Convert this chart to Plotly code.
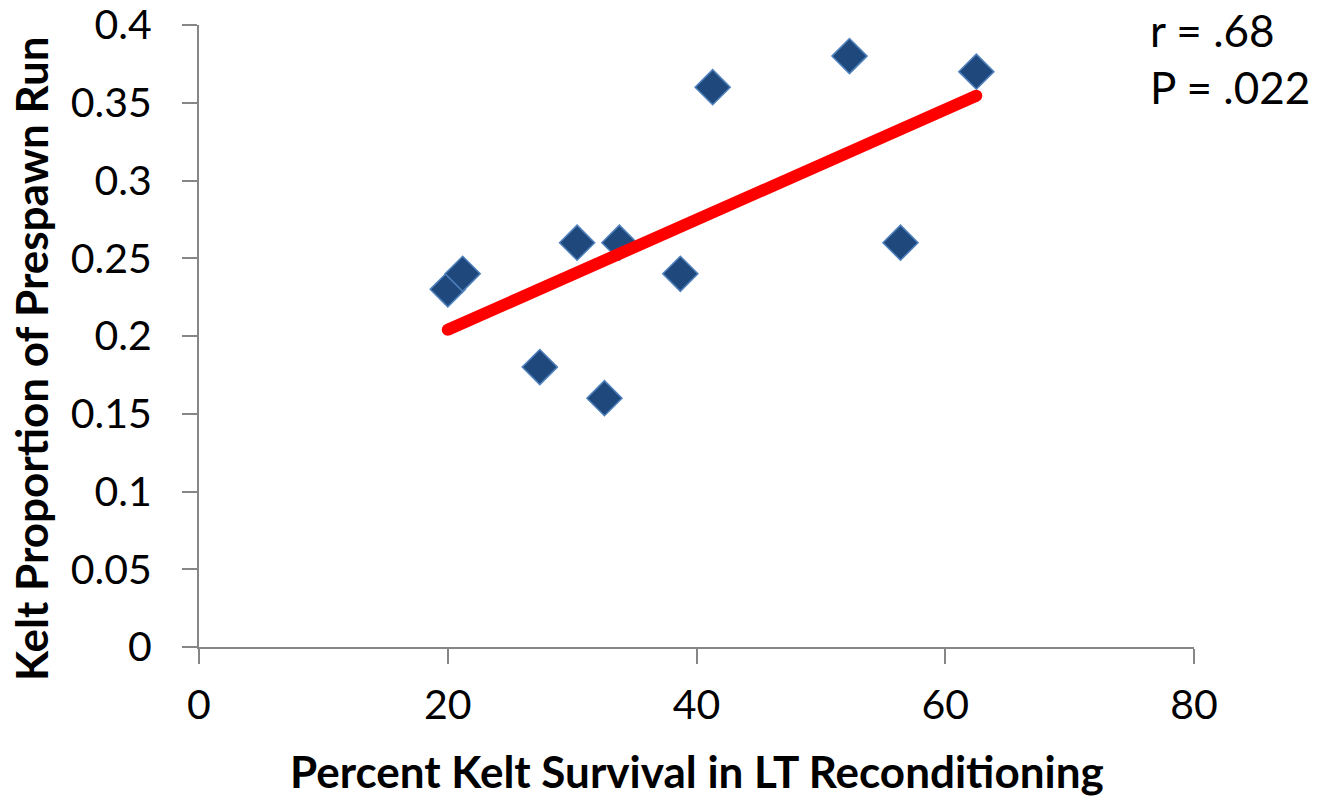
import numpy as np
import plotly.graph_objects as go

# Percent kelt survival in long-term reconditioning vs kelt proportion of prespawn run
survival_pct = [20.0, 21.2, 27.4, 30.4, 32.6, 33.8, 38.7, 41.3, 52.3, 56.4, 62.5]
prespawn_prop = [0.23, 0.24, 0.18, 0.26, 0.16, 0.26, 0.24, 0.36, 0.38, 0.26, 0.37]

x_ticks = [0, 20, 40, 60, 80]
y_ticks = [0, 0.05, 0.1, 0.15, 0.2, 0.25, 0.3, 0.35, 0.4]
y_tick_text = ["0", "0.05", "0.1", "0.15", "0.2", "0.25", "0.3", "0.35", "0.4"]

r_text = "r = .68"
p_text = "P = .022"

# least-squares trend line across the observed range
slope, intercept = np.polyfit(survival_pct, prespawn_prop, 1)
fit_x = [min(survival_pct), max(survival_pct)]
fit_y = [slope * v + intercept for v in fit_x]

FONT = "Lato, 'Open Sans', sans-serif"
AXIS_GREY = "#868686"
TICK_SIZE = 41
TITLE_SIZE = 44
STAT_SIZE = 44

fig = go.Figure()

fig.add_trace(go.Scatter(
    x=survival_pct, y=prespawn_prop, mode="markers",
    marker=dict(symbol="diamond", size=27, color="#1F497D",
                line=dict(color="#4F81BD", width=1.5)),
    showlegend=False, hoverinfo="x+y",
))

fig.add_trace(go.Scatter(
    x=fit_x, y=fit_y, mode="lines+markers",
    line=dict(color="#FF0000", width=12),
    marker=dict(symbol="circle", size=12, color="#FF0000", line=dict(width=0)),
    showlegend=False, hoverinfo="skip",
))

axis_common = dict(
    showgrid=False, zeroline=False, automargin=False,
    showline=True, linecolor=AXIS_GREY, linewidth=2,
    ticks="outside", ticklen=15, tickwidth=2, tickcolor=AXIS_GREY,
    ticklabeloverflow="allow",
    tickfont=dict(family=FONT, size=TICK_SIZE, color="black"),
)

fig.update_layout(
    width=1320, height=799,
    margin=dict(l=199, r=126, t=25, b=152),
    paper_bgcolor="white", plot_bgcolor="white",
    font=dict(family=FONT, color="black", size=TICK_SIZE),
    xaxis=dict(range=[0, 80], tickvals=x_ticks,
               ticktext=[str(v) for v in x_ticks],
               ticklabelstandoff=6, **axis_common),
    yaxis=dict(range=[0, 0.4], tickvals=y_ticks, ticktext=y_tick_text,
               ticklabelstandoff=22, **axis_common),
    annotations=[
        dict(text="<b>Percent Kelt Survival in LT Reconditioning</b>",
             xref="paper", yref="paper", x=0.5, y=0, yshift=-124,
             xanchor="center", yanchor="middle", showarrow=False,
             font=dict(family=FONT, size=TITLE_SIZE, color="black")),
        dict(text="<b>Kelt Proportion of Prespawn Run</b>",
             xref="paper", yref="paper", x=0, xshift=-168, y=0.463,
             xanchor="center", yanchor="middle", textangle=-90, showarrow=False,
             font=dict(family=FONT, size=TITLE_SIZE, color="black")),
        dict(text=r_text, xref="paper", yref="paper",
             x=1, xshift=-46, y=1, yshift=-5, xanchor="left", yanchor="middle",
             align="left", showarrow=False,
             font=dict(family=FONT, size=STAT_SIZE, color="black")),
        dict(text=p_text, xref="paper", yref="paper",
             x=1, xshift=-46, y=1, yshift=-62, xanchor="left", yanchor="middle",
             align="left", showarrow=False,
             font=dict(family=FONT, size=STAT_SIZE, color="black")),
    ],
)

fig.write_html("out.html")
